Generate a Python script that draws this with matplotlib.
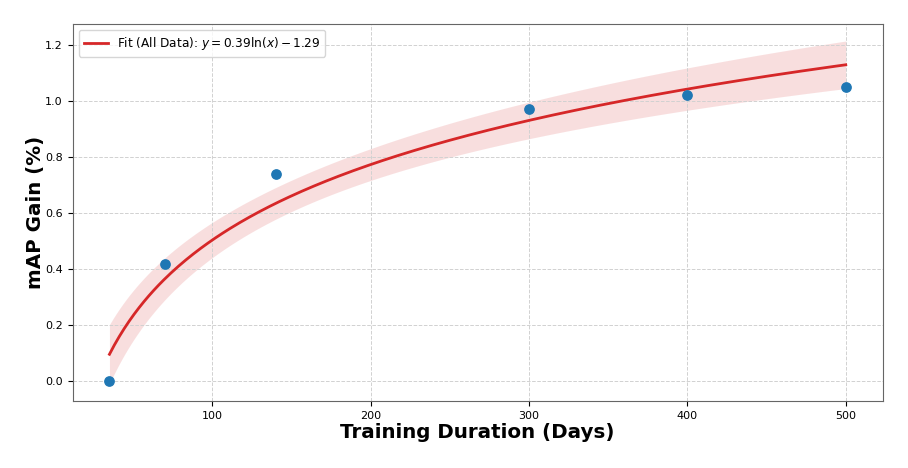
import numpy as np
import matplotlib.pyplot as plt

# ---- data ----
days = np.array([35, 70, 140, 300, 400, 500], dtype=float)
map_gain = np.array([0.00, 0.42, 0.74, 0.97, 1.02, 1.05])

# ---- log fit y = a*ln(x) + b ----
u = np.log(days)
a, b = np.polyfit(u, map_gain, 1)
resid = map_gain - (a * u + b)
n = len(days)
s = np.sqrt(np.sum(resid ** 2) / (n - 2))
sxx = np.sum((u - u.mean()) ** 2)
t_val = 1.533  # ~80% two-sided, 4 dof

x_fit = np.linspace(days.min(), days.max(), 300)
u_fit = np.log(x_fit)
y_fit = a * u_fit + b
half = t_val * s * np.sqrt(1.0 / n + (u_fit - u.mean()) ** 2 / sxx)

fig, ax = plt.subplots(figsize=(9.08, 4.68), dpi=100)
ax.fill_between(x_fit, y_fit - half, y_fit + half, color="#d62728", alpha=0.15, lw=0)
ax.plot(x_fit, y_fit, color="#d62728", lw=2,
        label=rf"Fit (All Data): $y = {a:.2f}\ln(x) - {abs(b):.2f}$")
ax.scatter(days, map_gain, color="#1f77b4", s=45, zorder=3)

ax.set_xlabel("Training Duration (Days)", fontsize=14.3, fontweight="bold", labelpad=1.5)
ax.set_ylabel("mAP Gain (%)", fontsize=14.3, fontweight="bold", labelpad=0)
ax.tick_params(labelsize=8)
ax.grid(True, linestyle="--", color="0.82", lw=0.7)
for sp in ax.spines.values():
    sp.set_color("0.4")
ax.legend(loc="upper left", fontsize=8.7)

fig.subplots_adjust(left=0.08, right=0.972, top=0.949, bottom=0.143)
fig.savefig("out.png", dpi=100)
